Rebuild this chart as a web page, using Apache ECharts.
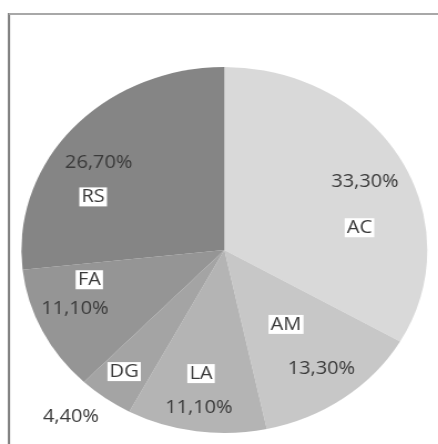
<!DOCTYPE html>
<html>
<head>
<meta charset="utf-8">
<script src="https://cdn.jsdelivr.net/npm/echarts@6/dist/echarts.min.js"></script>
<style>
  html, body { margin: 0; padding: 0; background: #ffffff; overflow: hidden; }
  #wrap { width: 438px; height: 444px; position: relative; overflow: hidden; }
  #chart { width: 395px; height: 444px; transform: scaleX(1.109); transform-origin: 0 0; }
</style>
</head>
<body>
<div id="wrap"><div id="chart"></div></div>
<script>
// Data
const categories = ['AC', 'AM', 'LA', 'DG', 'FA', 'RS'];
const values = [33.3, 13.3, 11.1, 4.4, 11.1, 26.7];
const valueLabels = ['33,30%', '13,30%', '11,10%', '4,40%', '11,10%', '26,70%'];

// Styling
const colors = ['#d9d9d9', '#c7c7c7', '#b4b4b4', '#a4a4a4', '#959595', '#858585'];
const nameShift = [[40, 25], [0, -2], [-8, 30], [-35, 45], [-37, -12], [-48, 10]];
const valueShift = [[45, -21], [32, 42], [-10, 64], [-83, 90], [-50, 17], [-43, -24]];

const chart = echarts.init(document.getElementById('chart'), null, { renderer: 'canvas' });

const pieData = categories.map((c, i) => ({ name: c, value: values[i], itemStyle: { color: colors[i] } }));
const labelData = categories.map((c, i) => ({ name: c, value: values[i] }));

const textBase = { fontFamily: 'Open Sans', fontSize: 18, color: '#3a3a3a' };

chart.setOption({
  animation: false,
  graphic: [
    { type: 'line', shape: { x1: 8.1, y1: 13, x2: 8.1, y2: 444 }, style: { stroke: '#7a7a7a', lineWidth: 2 } },
    { type: 'line', shape: { x1: 8.1, y1: 14, x2: 395, y2: 14 }, style: { stroke: '#a8a8a8', lineWidth: 2 } }
  ],
  series: [
    {
      type: 'pie',
      center: [202.3, 250],
      radius: [0, 183],
      startAngle: 90,
      clockwise: true,
      avoidLabelOverlap: false,
      silent: true,
      itemStyle: { borderWidth: 0 },
      data: pieData,
      label: Object.assign({
        show: true,
        position: 'inside',
        formatter: '{b}',
        backgroundColor: '#ffffff',
        padding: [0, 2, 0, 2],
        lineHeight: 19
      }, textBase),
      labelLine: { show: false },
      labelLayout: function (p) {
        const s = nameShift[p.dataIndex];
        return { dx: s[0], dy: s[1] };
      }
    },
    {
      type: 'pie',
      center: [202.3, 250],
      radius: [0, 183],
      startAngle: 90,
      clockwise: true,
      avoidLabelOverlap: false,
      silent: true,
      z: 3,
      itemStyle: { color: 'rgba(0,0,0,0)', borderWidth: 0 },
      data: labelData,
      label: Object.assign({
        show: true,
        position: 'inside',
        formatter: function (p) { return valueLabels[p.dataIndex]; }
      }, textBase),
      labelLine: { show: false },
      labelLayout: function (p) {
        const s = valueShift[p.dataIndex];
        return { dx: s[0], dy: s[1] };
      }
    }
  ]
});
</script>
</body>
</html>
